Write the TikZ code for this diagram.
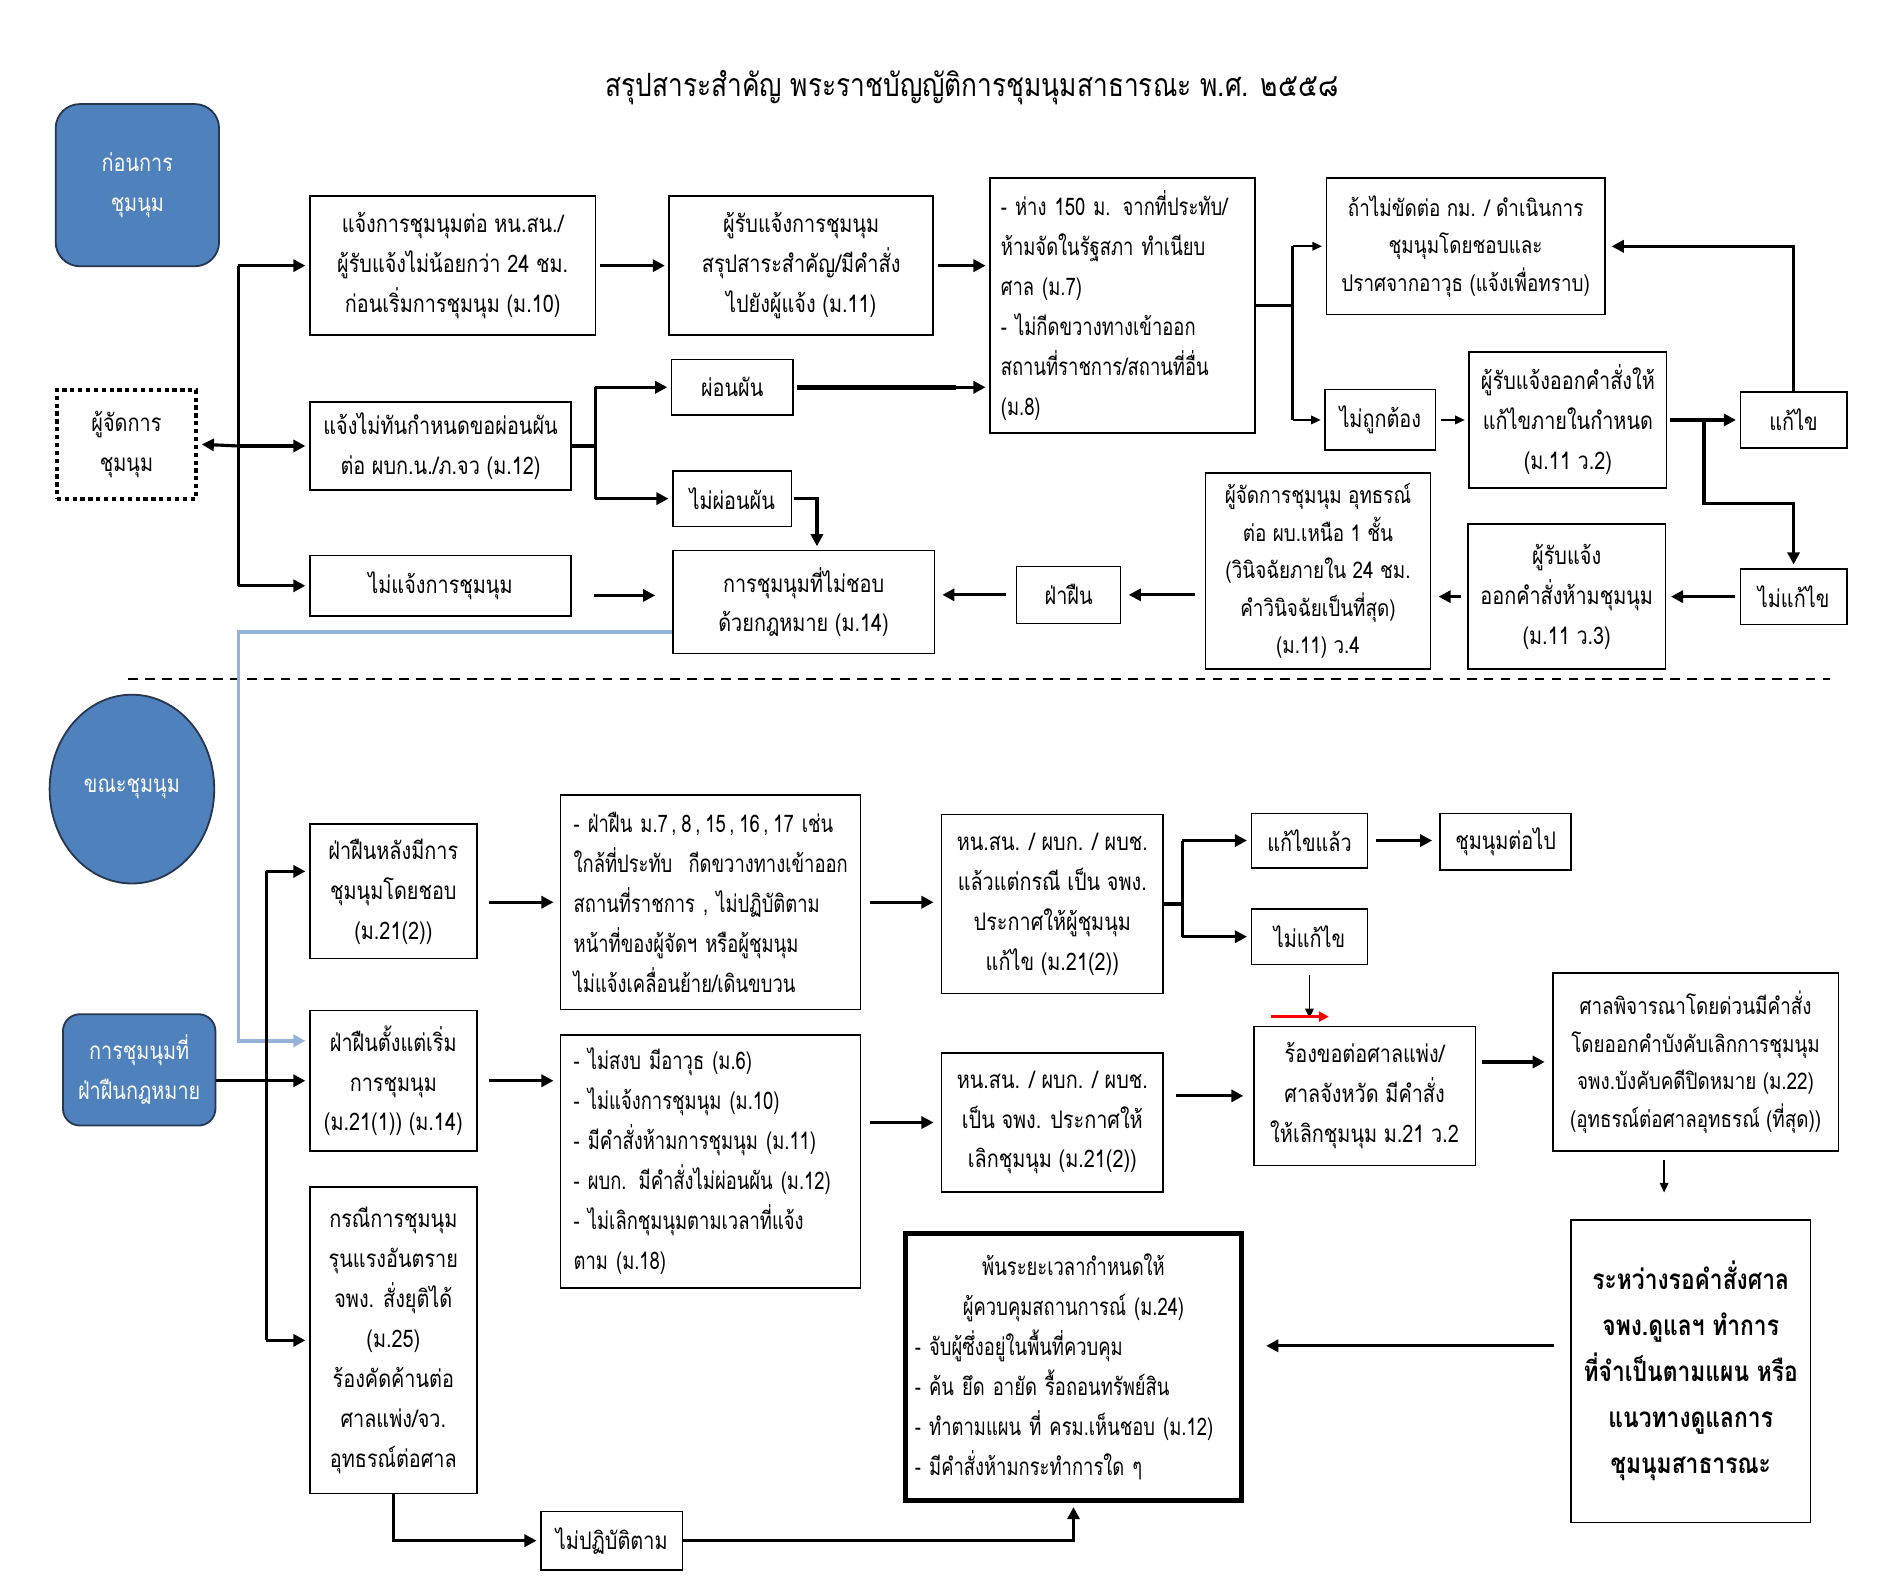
\documentclass[tikz,border=0pt]{standalone}
\usepackage{fontspec}
\newfontfamily\thai[Script=Thai,FakeStretch=0.82]{Loma}
\newfontfamily\thaic[Script=Thai,FakeStretch=0.76]{Loma}
\usetikzlibrary{arrows.meta,shapes.geometric}
\definecolor{boxblue}{HTML}{4F81BD}
\definecolor{boxedge}{HTML}{26374F}
\definecolor{lblue}{HTML}{95B3D7}
\newcommand\bfs{\fontsize{20}{33}\selectfont}
\newcommand\sfs{\fontsize{19}{31}\selectfont}
\newcommand\bigfs{\fontsize{23}{38}\selectfont}
\newcommand\cm{\hspace{3pt},\hspace{4pt}}
\newcommand\mybox[7][]{%
  \node[bx,#1,minimum width={(#5-#3)*1pt},minimum height={(#6-#4)*1pt}] (#2) at ({(#3+#5)/2},{-(#4+#6)/2}) {#7};}
\begin{document}
\begin{tikzpicture}[x=1pt,y=1pt,
  bx/.style={draw, line width=1.3pt, inner sep=0pt, align=center, font=\thai\bfs},
  lbx/.style={align=left, font=\thaic\bfs},
  blueb/.style={draw=boxedge, line width=1.5pt, fill=boxblue, rounded corners=20pt, text=white, inner sep=0pt, align=center, font=\thai\bfs},
  ln/.style={line width=2.6pt},
  arr/.style={line width=2.6pt, -{Triangle[length=10pt,width=10pt]}, shorten >=3pt},
  tarr/.style={line width=1.5pt, -{Triangle[length=8pt,width=7pt]}, shorten >=3pt},
  barr/.style={line width=3pt, draw=lblue, -{Triangle[length=10pt,width=10pt]}, shorten >=3pt},
]
\fill[white] (0,0) rectangle (1560,-1318.7);
\useasboundingbox (0,0) rectangle (1560,-1318.7);

% title
\node[font=\thai\fontsize{26.5}{32}\selectfont] (title) at (803,-72) {สรุปสาระสำคัญ พระราชบัญญัติการชุมนุมสาธารณะ พ.ศ. ๒๕๕๘};

% ---------- top section ----------
\node[blueb, minimum width=135pt, minimum height=134pt] (pre) at (113.5,-153) {ก่อนการ\\ชุมนุม};
\mybox[line width=3.5pt, dash pattern=on 3.5pt off 3pt]{org}{47}{322}{162}{412}{ผู้จัดการ\\ชุมนุม}
\mybox{A1}{256}{162}{492}{277}{แจ้งการชุมนุมต่อ หน.สน./\\ผู้รับแจ้งไม่น้อยกว่า 24 ชม.\\ก่อนเริ่มการชุมนุม (ม.10)}
\mybox{A2}{256}{332}{472}{405}{แจ้งไม่ทันกำหนดขอผ่อนผัน\\ต่อ ผบก.น./ภ.จว (ม.12)}
\mybox{A3}{256}{459}{472}{509}{ไม่แจ้งการชุมนุม}
\mybox{B1}{553}{162}{771}{277}{ผู้รับแจ้งการชุมนุม\\สรุปสาระสำคัญ/มีคำสั่ง\\ไปยังผู้แจ้ง (ม.11)}
\mybox[lbx,text width=201pt]{C1}{818}{147}{1037}{358}{\mbox{- ห่าง 150 ม. จากที่ประทับ/}\\ห้ามจัดในรัฐสภา ทำเนียบ\\ศาล (ม.7)\\- ไม่กีดขวางทางเข้าออก\\\mbox{สถานที่ราชการ/สถานที่อื่น}\\(ม.8)}
\mybox{pp}{555}{297}{655}{343}{ผ่อนผัน}
\mybox{npp}{556}{389}{654}{435}{ไม่ผ่อนผัน}
\mybox{D}{556}{455}{772}{540}{การชุมนุมที่ไม่ชอบ\\ด้วยกฎหมาย (ม.14)}
\mybox{vio}{840}{468}{926}{515}{ฝ่าฝืน}
\mybox[font=\thai\sfs]{E}{996}{391}{1182}{553}{ผู้จัดการชุมนุม อุทธรณ์\\ต่อ ผบ.เหนือ 1 ชั้น\\(วินิจฉัยภายใน 24 ชม.\\คำวินิจฉัยเป็นที่สุด)\\(ม.11) ว.4}
\mybox{F}{1213}{433}{1376}{553}{ผู้รับแจ้ง\\ออกคำสั่งห้ามชุมนุม\\(ม.11 ว.3)}
\mybox{nfx1}{1438}{470}{1526}{516}{ไม่แก้ไข}
\mybox[font=\thai\sfs]{G}{1096}{147}{1326}{260}{ถ้าไม่ขัดต่อ กม. / ดำเนินการ\\ชุมนุมโดยชอบและ\\ปราศจากอาวุธ (แจ้งเพื่อทราบ)}
\mybox{wrong}{1095}{322}{1186}{372}{ไม่ถูกต้อง}
\mybox{H}{1214}{291}{1377}{403}{ผู้รับแจ้งออกคำสั่งให้\\แก้ไขภายในกำหนด\\(ม.11 ว.2)}
\mybox{fix}{1438}{324}{1526}{370}{แก้ไข}

% top connectors
\coordinate (tr) at (197,0);
\draw[ln] (tr |- A1.west) -- (tr |- A3.west);
\draw[arr] (tr |- A1.west) -- (A1.west);
\draw[arr] (tr |- A2.west) -- (A2.west);
\draw[arr] (tr |- A3.west) -- (A3.west);
\draw[arr] (tr |- A2.west) -- (org.east);
\draw[arr, shorten <=3pt] (A1) -- (B1);
\draw[arr, shorten <=3pt] (B1.east) -- (B1.east -| C1.west);
\coordinate (br1) at (492,0);
\draw[ln] (A2.east) -- (br1 |- A2.east);
\draw[ln] (br1 |- pp.west) -- (br1 |- npp.west);
\draw[arr] (br1 |- pp.west) -- (pp.west);
\draw[arr] (br1 |- npp.west) -- (npp.west);
\draw[line width=4.5pt, shorten <=3pt] (pp.east) -- (790,-320);
\draw[arr] (790,-320) -- (pp.east -| C1.west);
\coordinate (dn) at (675,0);
\draw[arr, shorten <=1pt] (npp.east) -| (dn |- D.north);
\coordinate (rowD) at (0,-492);
\draw[arr, shorten <=18pt, shorten >=14pt] (A3.east |- rowD) -- (D.west |- rowD);
\draw[arr, shorten <=8pt, shorten >=6pt] (vio.west) -- (vio.west -| D.east);
\draw[arr, shorten <=8pt, shorten >=6pt] (E.west |- vio.east) -- (vio.east);
\draw[arr, shorten <=5pt, shorten >=6pt] (F.west) -- (F.west -| E.east);
\draw[arr, shorten <=4pt, shorten >=4pt] (nfx1.west) -- (nfx1.west -| F.east);
\coordinate (br2) at (1068,0);
\draw[ln] (C1.east) -- (br2 |- C1.east);
\draw[ln] (br2 |- G.west) -- (br2 |- wrong.west);
\draw[tarr] (br2 |- G.west) -- (G.west);
\draw[tarr] (br2 |- wrong.west) -- (wrong.west);
\draw[tarr, shorten <=4pt] (wrong) -- (H);
\coordinate (br3) at (1408,0);
\coordinate (kink) at (1408,-416);
\draw[arr, shorten <=2pt] (H.east) -- (fix.west);
\draw[arr] (br3 |- H.east) -- (kink) -| (nfx1.north);
\draw[arr, shorten >=5pt] (fix.north) |- (G.east);

% divider
\coordinate (dl1) at (106,-561);
\coordinate (dl2) at (1512,-561);
\draw[line width=1.3pt, dash pattern=on 8pt off 6pt] (dl1) -- (dl2);

% ---------- bottom section ----------
\node[ellipse, draw=boxedge, line width=1.5pt, fill=boxblue, text=white, inner sep=0pt, minimum width=136pt, minimum height=156pt, font=\thai\bfs] (during) at (109,-652) {ขณะชุมนุม};
\node[blueb, rounded corners=14pt, minimum width=126pt, minimum height=92pt] (viol) at (115,-884) {การชุมนุมที่\\ฝ่าฝืนกฎหมาย};
\mybox{J1}{256}{681}{394}{792}{ฝ่าฝืนหลังมีการ\\ชุมนุมโดยชอบ\\(ม.21(2))}
\mybox{J2}{256}{835}{394}{951}{ฝ่าฝืนตั้งแต่เริ่ม\\การชุมนุม\\(ม.21(1)) (ม.14)}
\mybox{J3}{256}{981}{394}{1234}{กรณีการชุมนุม\\รุนแรงอันตราย\\จพง. สั่งยุติได้\\(ม.25)\\ร้องคัดค้านต่อ\\ศาลแพ่ง/จว.\\อุทธรณ์ต่อศาล}
\mybox[lbx,text width=226pt]{K1}{463}{657}{711}{834}{\mbox{- ฝ่าฝืน ม.7\cm 8\cm 15\cm 16\cm 17 เช่น}\\\mbox{ใกล้ที่ประทับ~~กีดขวางทางเข้าออก}\\\mbox{สถานที่ราชการ , ไม่ปฏิบัติตาม}\\\mbox{หน้าที่ของผู้จัดฯ หรือผู้ชุมนุม}\\\mbox{ไม่แจ้งเคลื่อนย้าย/เดินขบวน}}
\mybox[lbx,text width=226pt]{K2}{463}{855}{711}{1064}{\mbox{- ไม่สงบ มีอาวุธ (ม.6)}\\\mbox{- ไม่แจ้งการชุมนุม (ม.10)}\\\mbox{- มีคำสั่งห้ามการชุมนุม (ม.11)}\\\mbox{- ผบก. มีคำสั่งไม่ผ่อนผัน (ม.12)}\\\mbox{- ไม่เลิกชุมนุมตามเวลาที่แจ้ง}\\ตาม (ม.18)}
\mybox{L1}{778}{673}{961}{821}{หน.สน. / ผบก. / ผบช.\\แล้วแต่กรณี เป็น จพง.\\ประกาศให้ผู้ชุมนุม\\แก้ไข (ม.21(2))}
\mybox{L2}{778}{870}{961}{985}{หน.สน. / ผบก. / ผบช.\\เป็น จพง. ประกาศให้\\เลิกชุมนุม (ม.21(2))}
\mybox{fixed}{1034}{672}{1130}{717}{แก้ไขแล้ว}
\mybox{cont}{1190}{672}{1298}{719}{ชุมนุมต่อไป}
\mybox{nfx2}{1034}{751}{1130}{797}{ไม่แก้ไข}
\mybox{M}{1036}{848}{1219}{963}{ร้องขอต่อศาลแพ่ง/\\ศาลจังหวัด มีคำสั่ง\\ให้เลิกชุมนุม ม.21 ว.2}
\mybox[font=\thai\sfs]{N}{1283}{804}{1519}{951}{ศาลพิจารณาโดยด่วนมีคำสั่ง\\โดยออกคำบังคับเลิกการชุมนุม\\จพง.บังคับคดีปิดหมาย (ม.22)\\(อุทธรณ์ต่อศาลอุทธรณ์ (ที่สุด))}
\mybox[font=\thai\bigfs\bfseries]{O}{1298}{1008}{1496}{1258}{ระหว่างรอคำสั่งศาล\\จพง.ดูแลฯ ทำการ\\ที่จำเป็นตามแผน หรือ\\แนวทางดูแลการ\\ชุมนุมสาธารณะ}
\mybox[lbx,line width=4.5pt,text width=262pt]{P}{748}{1019}{1026}{1240}{\makebox[262pt]{พ้นระยะเวลากำหนดให้}\\\makebox[262pt]{ผู้ควบคุมสถานการณ์ (ม.24)}\\- จับผู้ซึ่งอยู่ในพื้นที่ควบคุม\\- ค้น ยึด อายัด รื้อถอนทรัพย์สิน\\\mbox{- ทำตามแผน ที่ ครม.เห็นชอบ (ม.12)}\\- มีคำสั่งห้ามกระทำการใด ๆ}
\mybox{Q}{447}{1249}{564}{1297}{ไม่ปฏิบัติตาม}

% bottom connectors
\coordinate (bl) at (197,0);
\draw[barr] (D.west |- 0,-522) -| (bl |- 0,-860) -- (J2.west |- 0,-860);
\coordinate (tr2) at (220,0);
\draw[ln] (tr2 |- 0,-720) -- (tr2 |- J3.west);
\draw[arr] (tr2 |- 0,-720) -- (J1.west |- 0,-720);
\draw[arr] (tr2 |- J3.west) -- (J3.west);
\draw[arr] (viol.east |- J2.west) -- (J2.west);
\draw[arr, shorten <=9pt, shorten >=5pt] (J1.east |- K1.west) -- (K1.west);
\draw[arr, shorten <=9pt, shorten >=5pt] (J2.east) -- (J2.east -| K2.west);
\draw[arr, shorten <=7pt, shorten >=6pt] (K1.east) -- (K1.east -| L1.west);
\draw[arr, shorten <=7pt, shorten >=6pt] (L2.west -| K2.east) -- (L2.west);
\coordinate (br4) at (977,0);
\draw[ln] (L1.east) -- (br4 |- L1.east);
\draw[ln] (br4 |- fixed.west) -- (br4 |- nfx2.west);
\draw[arr] (br4 |- fixed.west) -- (fixed.west);
\draw[arr] (br4 |- nfx2.west) -- (nfx2.west);
\draw[arr, shorten <=6pt, shorten >=6pt] (fixed) -- (fixed -| cont.west);
\draw[tarr, shorten <=8pt, shorten >=6pt] (nfx2.south) -- (nfx2.south |- M.north);
\coordinate (r1) at (1050,-840);
\coordinate (r2) at (1098,-840);
\draw[red, line width=2.6pt, -{Triangle[length=8pt,width=8pt]}] (r1) -- (r2);
\draw[arr, shorten <=10pt, shorten >=8pt] (L2.east |- M.west) -- (M.west);
\draw[arr, shorten <=5pt, shorten >=6pt] (M.east |- N.west) -- (N.west);
\coordinate (cx) at (1375,0);
\draw[tarr, shorten <=7pt, shorten >=22pt] (cx |- N.south) -- (cx |- O.north);
\draw[arr, shorten <=13pt, shorten >=18pt] (O.west |- 0,-1112) -- (P.east |- 0,-1112);
\draw[arr] (J3.south) |- (Q.west);
\draw[arr] (Q.east) -| (P.south);
\end{tikzpicture}
\end{document}
